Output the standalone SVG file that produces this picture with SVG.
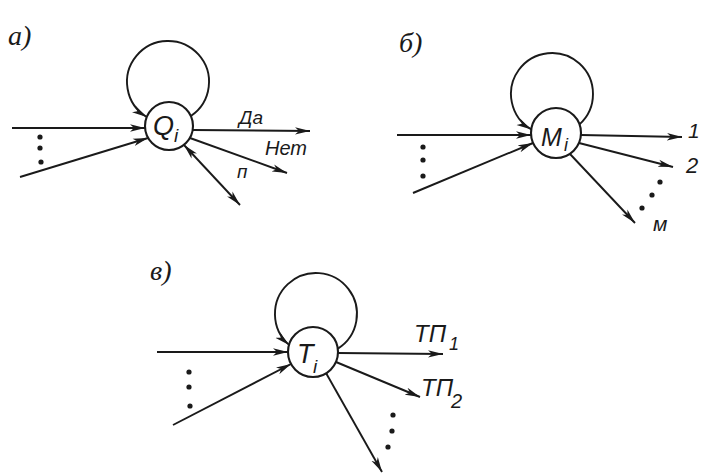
<svg xmlns="http://www.w3.org/2000/svg" width="702" height="475" viewBox="0 0 702 475">
<style>
.ln{fill:none;stroke:#1a1a1a;stroke-width:1.9}
.arr{marker-end:url(#ah)}
.nd{fill:#fff;stroke:#1a1a1a;stroke-width:2.1}
.t{font-family:"Liberation Sans","DejaVu Sans",sans-serif;font-style:italic;fill:#1a1a1a}
.pl{font-family:"Liberation Serif","DejaVu Serif",serif;font-style:italic;fill:#1a1a1a;font-size:28px}
.dot{fill:#1a1a1a}
</style>
<defs>
<marker id="ah" markerUnits="userSpaceOnUse" markerWidth="16" markerHeight="9" refX="15" refY="4.5" orient="auto">
<path d="M0,0.8 L15,4.5 L0,8.2 L4,4.5 z" fill="#1a1a1a"/>
</marker>
<marker id="ahs" markerUnits="userSpaceOnUse" markerWidth="16" markerHeight="9" refX="15" refY="4.5" orient="auto-start-reverse">
<path d="M0,0.8 L15,4.5 L0,8.2 L4,4.5 z" fill="#1a1a1a"/>
</marker>
</defs>
<rect width="702" height="475" fill="#fff"/>
<g id="panel-labels">
<text class="pl" x="8" y="45">а)</text>
<text class="pl" x="399" y="52">б)</text>
<text class="pl" x="150" y="280">в)</text>
</g>
<g id="connectors">
<!-- a -->
<path class="ln arr" d="M190.9,116 A41,41 0 1 0 146.7,117"/>
<path class="ln arr" d="M12,128 L145,128"/>
<path class="ln arr" d="M20,177 L148,138"/>
<path class="ln arr" d="M193,130 L310,131"/>
<path class="ln arr" d="M190,138 L287,173"/>
<path class="ln" marker-start="url(#ahs)" marker-end="url(#ahs)" d="M184,145 L240,205"/>
<!-- b -->
<path class="ln arr" d="M579.5,124.4 A41,41 0 1 0 531.3,129.4"/>
<path class="ln arr" d="M397,135 L531,135"/>
<path class="ln arr" d="M413,193 L533,143"/>
<path class="ln arr" d="M581,135 L682,137"/>
<path class="ln arr" d="M579,143 L673,167"/>
<path class="ln arr" d="M570,154 L635,223"/>
<!-- c -->
<path class="ln arr" d="M337.8,348.7 A41,41 0 1 0 289,344.9"/>
<path class="ln arr" d="M157,352 L288,352"/>
<path class="ln arr" d="M173,425 L291,364"/>
<path class="ln arr" d="M338,353 L443,354"/>
<path class="ln arr" d="M336,362 L420,397"/>
<path class="ln arr" d="M326,373 L382,472"/>
</g>
<g id="node-Q">
<circle class="nd" cx="169" cy="126" r="24"/>
<text class="t" x="153" y="135" font-size="27">Q</text>
<text class="t" x="174" y="142" font-size="19">i</text>
</g>
<g id="node-M">
<circle class="nd" cx="556" cy="133" r="25"/>
<text class="t" x="541" y="146" font-size="25">M</text>
<text class="t" x="564" y="151" font-size="18">i</text>
</g>
<g id="node-T">
<circle class="nd" cx="313" cy="352" r="25"/>
<text class="t" x="297" y="363" font-size="27">T</text>
<text class="t" x="313" y="373" font-size="19">i</text>
</g>
<g id="edge-labels">
<text class="t" x="239" y="124" font-size="19">Да</text>
<text class="t" x="265" y="155" font-size="20">Нет</text>
<text class="t" x="237" y="178" font-size="19">п</text>
<text class="t" x="688" y="138" font-size="21">1</text>
<text class="t" x="686" y="173" font-size="22">2</text>
<text class="t" x="653" y="231" font-size="21">м</text>
<text class="t" x="414" y="342" font-size="24">ТП</text>
<text class="t" x="449" y="350" font-size="18">1</text>
<text class="t" x="421" y="396" font-size="24">ТП</text>
<text class="t" x="451" y="408" font-size="20">2</text>
</g>
<g id="ellipses">
<circle class="dot" cx="40" cy="137" r="2.6"/>
<circle class="dot" cx="40" cy="148" r="2.6"/>
<circle class="dot" cx="41" cy="162" r="2.6"/>
<circle class="dot" cx="423" cy="147" r="2.6"/>
<circle class="dot" cx="423" cy="160" r="2.6"/>
<circle class="dot" cx="423" cy="176" r="2.6"/>
<circle class="dot" cx="660" cy="182" r="2.6"/>
<circle class="dot" cx="652" cy="195" r="2.6"/>
<circle class="dot" cx="642" cy="208" r="2.6"/>
<circle class="dot" cx="189" cy="372" r="2.6"/>
<circle class="dot" cx="189" cy="387" r="2.6"/>
<circle class="dot" cx="190" cy="406" r="2.6"/>
<circle class="dot" cx="393" cy="415" r="2.6"/>
<circle class="dot" cx="392" cy="431" r="2.6"/>
<circle class="dot" cx="388" cy="447" r="2.6"/>
</g>
</svg>
